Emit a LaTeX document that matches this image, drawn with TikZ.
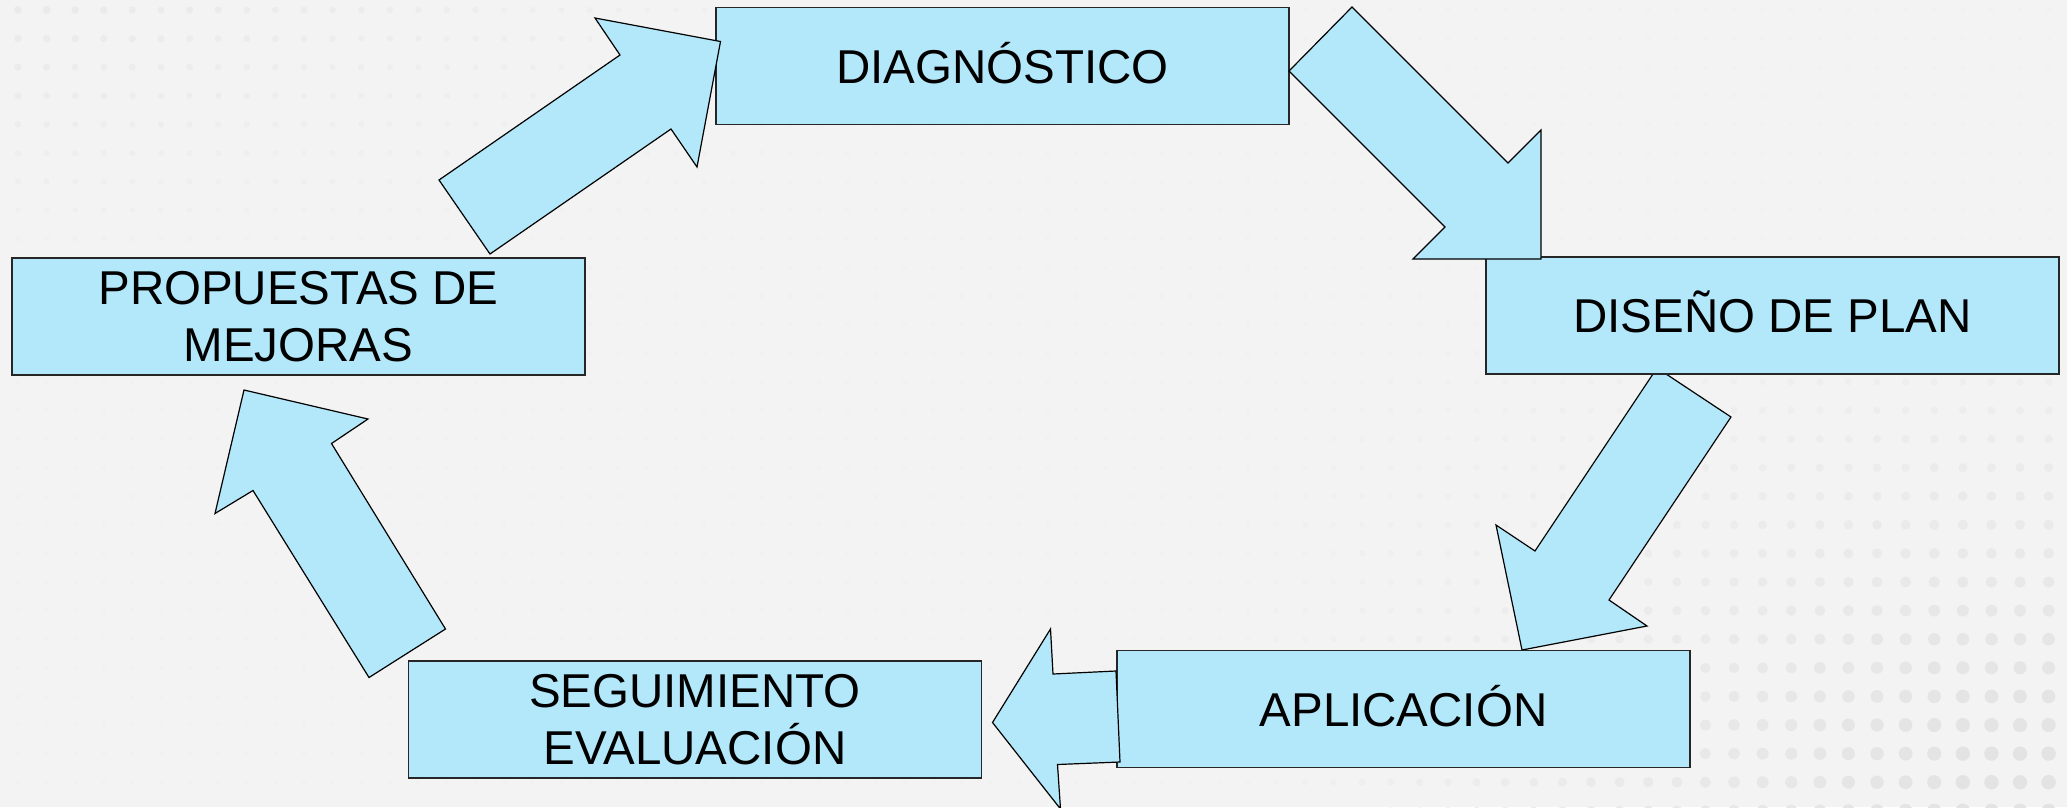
\documentclass[tikz,border=0pt]{standalone}
\usepackage{fontspec}
\setmainfont{Liberation Sans}
\definecolor{boxblue}{RGB}{179,231,250}
\definecolor{bggray}{RGB}{243,243,243}
\tikzset{
  stage/.style={draw=black!85, line width=1.4pt, fill=boxblue,
    minimum width=573pt, minimum height=117pt, inner sep=0pt,
    align=center, font=\fontsize{47.5}{57}\selectfont},
  oneline/.style={text height=34pt, text depth=0pt},
  blockarrow/.style={draw=black, line width=1.2pt, fill=boxblue, line join=miter},
}
\begin{document}
\begin{tikzpicture}[x=1pt,y=-1pt]
\useasboundingbox (0,0) rectangle (2067,807);
\clip (0,0) rectangle (2067,807);
\fill[bggray] (0,0) rectangle (2067,807);
% background dot grid
\foreach \i in {0,...,72}{
  \foreach \j in {0,...,28}{
    \pgfmathsetmacro{\px}{18+28.6*\i}
    \pgfmathsetmacro{\py}{10+28.6*\j}
    \pgfmathsetmacro{\sx}{min(1,max(0,(\px-1200)/750))}
    \pgfmathsetmacro{\sy}{min(1,max(0,(\py-250)/480))}
    \pgfmathsetmacro{\tl}{min(1,max(0,(1000-\px)/1000))*min(1,max(0,(300-\py)/300))}
    \pgfmathsetmacro{\rr}{2.2+5*\sx*\sy+1.8*\tl}
    \pgfmathsetmacro{\pp}{5.3+5.5*\sx*\sy+3.2*\tl}
    \fill[black!\pp] (\px,\py) circle[radius=\rr pt];
  }
}
% arrow DISENO -> APLICACION (tail under the box)
\draw[blockarrow] (1657,368) -- (1731,417) -- (1609,600) -- (1647,626)
  -- (1522,650) -- (1496,525) -- (1535,551) -- cycle;

\node[stage,oneline] (diag) at (1002.5,66) {DIAGNÓSTICO};
\node[stage,oneline] (dise) at (1772.5,315.5) {DISEÑO DE PLAN};
\node[stage,oneline] (apli) at (1403.5,709) {APLICACIÓN};
\node[stage] (segu) at (695,719.5) {SEGUIMIENTO\\EVALUACIÓN};
\node[stage] (prop) at (298.5,316.5) {PROPUESTAS DE\\MEJORAS};

% arrow PROPUESTAS -> DIAGNOSTICO
\draw[blockarrow] (439,180) -- (620,55) -- (595,18) -- (720.5,41.5)
  -- (697,167) -- (671,129) -- (490,254) -- cycle;
% arrow DIAGNOSTICO -> DISENO
\draw[blockarrow] (1352,7) -- (1289,71) -- (1445,227) -- (1413,259)
  -- (1541,259) -- (1541,130) -- (1508,163) -- cycle;
% arrow APLICACION -> SEGUIMIENTO
\draw[blockarrow] (1116,671) -- (1053,674) -- (1050.5,629) -- (992.5,722.5)
  -- (1060.5,809) -- (1057.5,764.5) -- (1120,762) -- cycle;
% arrow SEGUIMIENTO -> PROPUESTAS
\draw[blockarrow] (244,390) -- (368,419) -- (331.5,443.5) -- (445.5,629)
  -- (369,677.5) -- (253,490.5) -- (215,513.5) -- cycle;
\end{tikzpicture}
\end{document}
